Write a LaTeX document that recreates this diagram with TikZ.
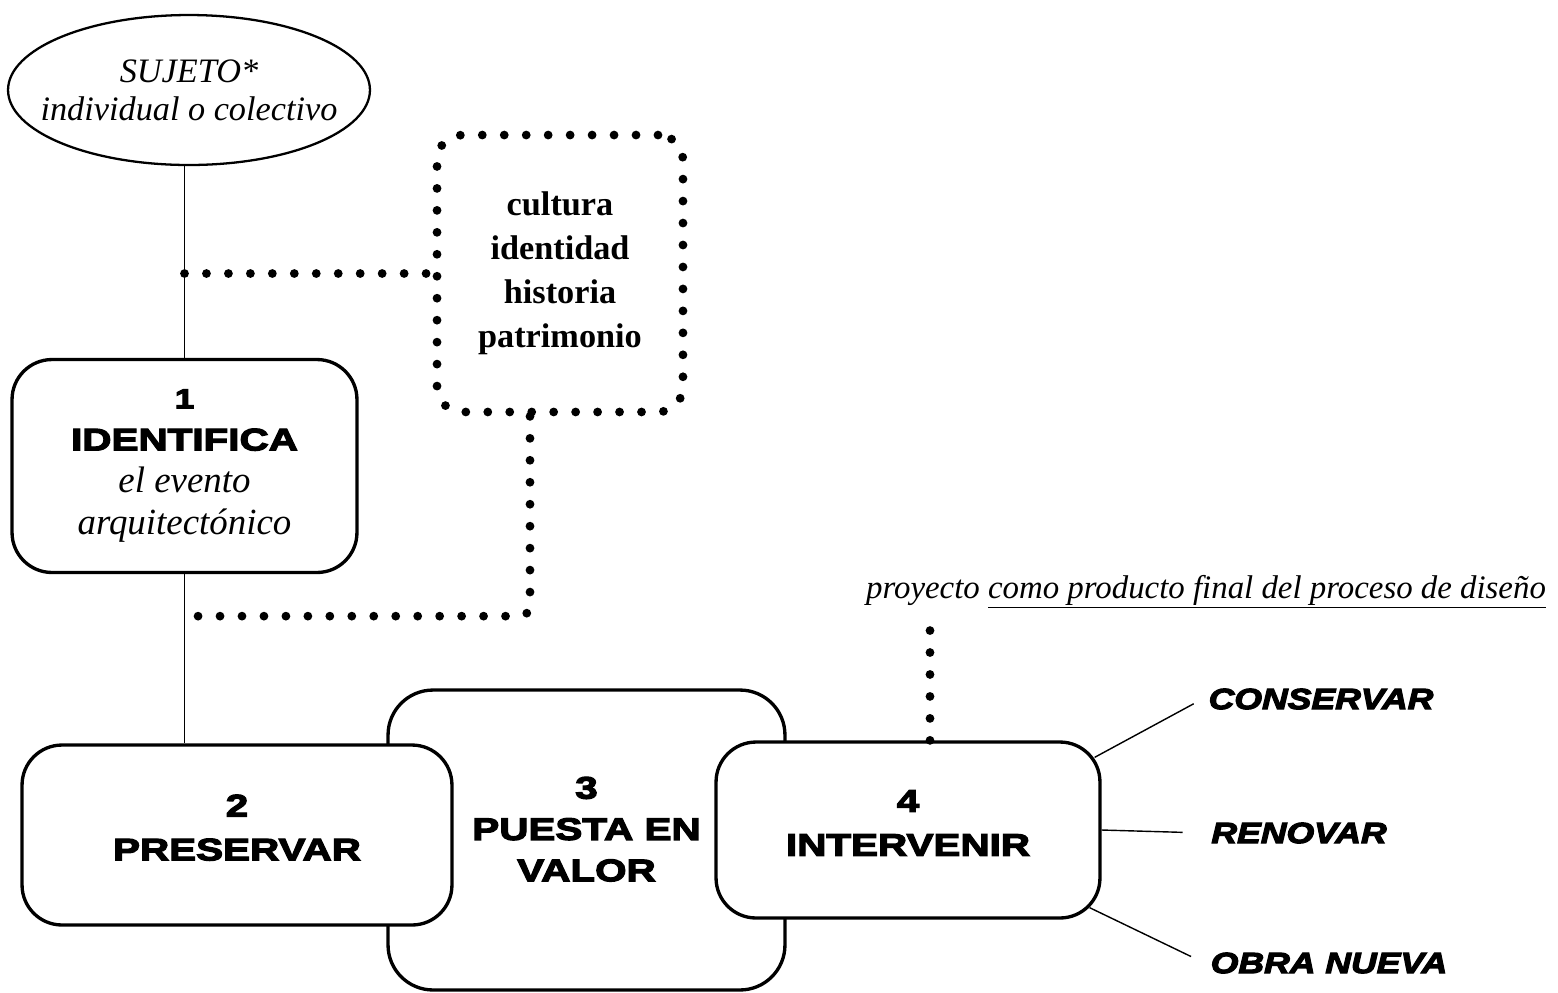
\documentclass[tikz,border=0pt]{standalone}
\usepackage{fontspec}
\setmainfont{Liberation Serif}
\newfontfamily\blackfont{Liberation Sans}[FakeStretch=1.3,FakeBold=4]
\newfontfamily\blackitfont{Liberation Sans}[FakeStretch=1.22,FakeBold=4]
\usetikzlibrary{shapes.geometric}

\begin{document}
\begin{tikzpicture}[x=0.02cm,y=-0.02cm,
	caja/.style={rectangle, draw=black, line width=1.9pt, rounded corners=0.8cm, fill=white, align=center, inner sep=0pt},
	titulo/.style={font=\blackfont\bfseries\fontsize{17.7}{25}\selectfont},
	opcion/.style={font=\blackitfont\bfseries\itshape\fontsize{16.6}{20}\selectfont},
	nube/.style={rectangle, draw=black, line width=5pt, dash pattern=on 0pt off 12.5pt, line cap=round, rounded corners=0.5cm, align=center, font=\bfseries\fontsize{19.5}{25}\selectfont},
	puntos/.style={line width=5pt, dash pattern=on 0pt off 12.5pt, line cap=round},
	linea/.style={line width=0.8pt},
	guia/.style={line width=0.8pt, shorten >=0.4cm}]

	\useasboundingbox (0,0) rectangle (1558,992);

	%Nodes
	\node[ellipse, draw=black, line width=1.3pt, inner xsep=-0.5cm, inner ysep=0pt, minimum width=7.24cm, minimum height=3cm, align=center, font=\itshape\fontsize{19.5}{21.5}\selectfont] (suj) at (189,90) {SUJETO*\\individual o colectivo};
	\node[caja, minimum width=6.9cm, minimum height=4.26cm, font=\itshape\fontsize{21}{24}\selectfont] (ide) at (184.5,466)
		{{\upshape\blackfont\bfseries\fontsize{15.5}{24}\selectfont 1}\\{\upshape\blackfont\bfseries\fontsize{17.7}{24}\selectfont IDENTIFICA}\\el evento\\arquitectónico};
	\node[nube, minimum width=4.92cm, minimum height=5.54cm] (cult) at (560,273.5) {cultura\\identidad\\historia\\patrimonio};
	\node[caja, titulo, minimum width=7.94cm, minimum height=6cm, rounded corners=0.9cm, text depth=0.44cm, font=\blackfont\bfseries\fontsize{17.7}{23.5}\selectfont] (pva) at (586.5,840) {3\\PUESTA EN\\VALOR};
	\node[caja, titulo, minimum width=8.6cm, minimum height=3.6cm, text depth=0.3cm] (pre) at (237,835) {2\\PRESERVAR};
	\node[caja, titulo, minimum width=7.68cm, minimum height=3.52cm, text depth=0.28cm] (int) at (908,830) {4\\INTERVENIR};
	\node[font=\itshape\fontsize{18.7}{22}\selectfont] (proy) at (1206,592) {proyecto \underline{como producto final del proceso de diseño}};
	\node[opcion] (con) at (1321,699) {CONSERVAR};
	\node[opcion] (ren) at (1299,833) {RENOVAR};
	\node[opcion] (obr) at (1329,963) {OBRA NUEVA};

	%Lines
	\draw[linea] (ide.north) -- (ide.north |- suj.south);
	\draw[linea] (ide.south) -- (ide.south |- pre.north);
	\draw[puntos] (ide.north |- cult.west) -- (cult.west);
	\draw[puntos, rounded corners=6pt] ([xshift=-0.6cm]cult.south) |- ([yshift=-0.84cm]ide.south);
	\draw[puntos] ([xshift=0.44cm]int.north) -- ([xshift=0.44cm]int.north |- proy.south);
	\draw[guia, shorten >=0.2cm] ([xshift=-0.14cm,yshift=-0.34cm]int.north east) -- (con.west);
	\draw[guia, shorten >=0.45cm] (int.east) -- (ren.west);
	\draw[guia, shorten >=0.3cm] ([xshift=-0.24cm,yshift=0.24cm]int.south east) -- (obr.west);
\end{tikzpicture}
\end{document}
